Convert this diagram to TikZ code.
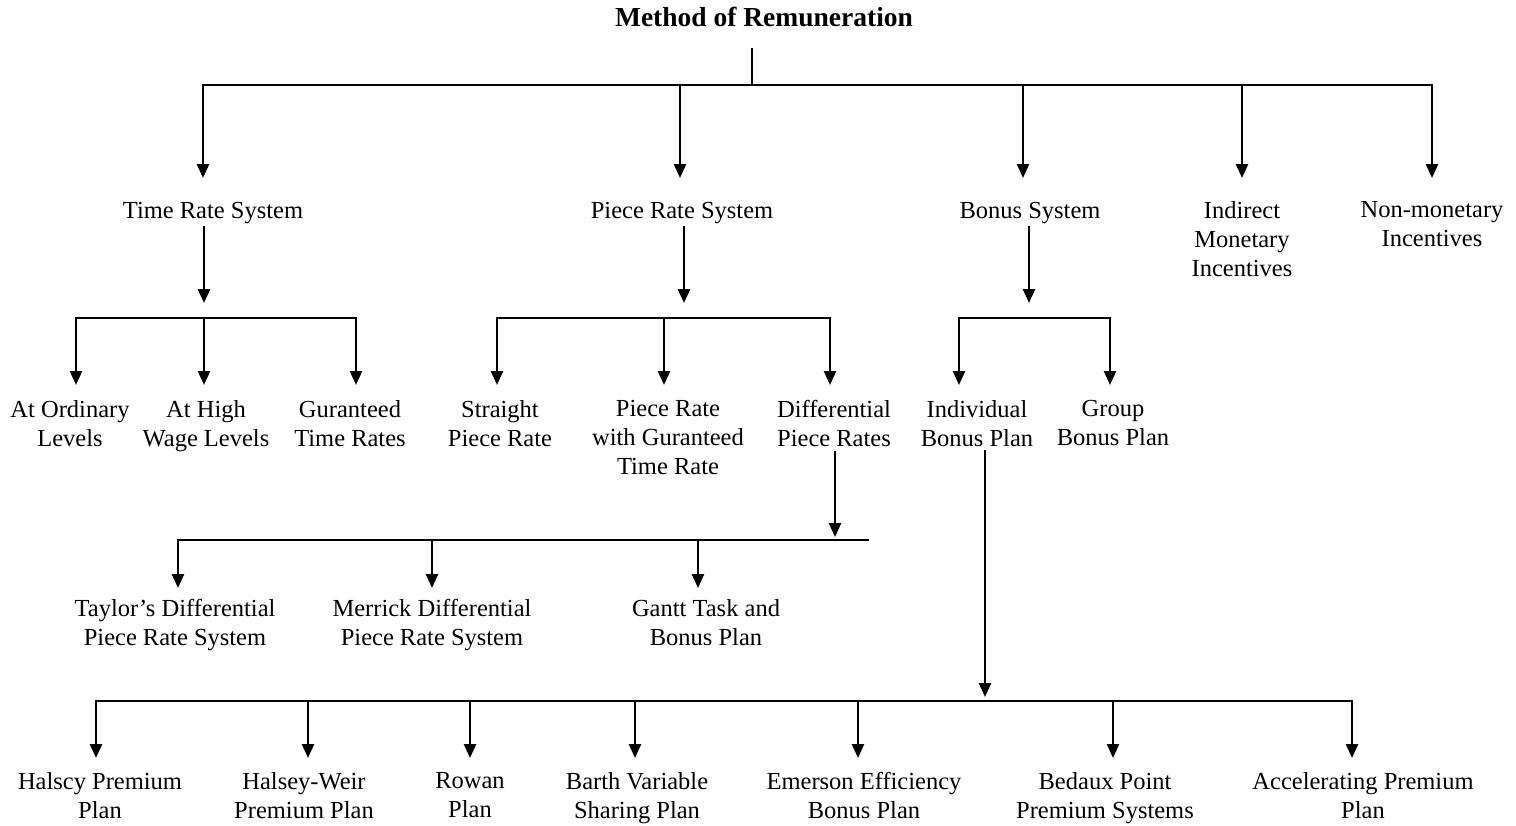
\documentclass[tikz,border=0pt]{standalone}
\usepackage{fontspec}
\setmainfont{Liberation Serif}
\usetikzlibrary{arrows.meta}
\begin{document}
\begin{tikzpicture}[x=1pt,y=-1pt, line width=2.5pt, line cap=rect,
  lbl/.style={anchor=north, inner sep=0pt, align=center,
    font=\fontsize{24.5}{29}\selectfont,
    execute at begin node={\rule{0pt}{19pt}}},
  arr/.style={-{Triangle[width=12pt,length=14pt]}, shorten >=#1},
  arr/.default=0pt]
\path[use as bounding box] (0,0) rectangle (1516,825);

% root
\node[anchor=base, inner sep=0pt, font=\fontsize{27.5}{32}\selectfont\bfseries] (title) at (764,26) {Method of Remuneration};

% first level
\node[lbl] (trs) at (213,198) {Time Rate System};
\node[lbl] (prs) at (682,198) {Piece Rate System};
\node[lbl] (bs)  at (1030,198) {Bonus System};
\node[lbl] (imi) at (1242,200) {Indirect\\Monetary\\Incentives};
\node[lbl] (nmi) at (1432,200) {Non-monetary\\Incentives};

\coordinate (rj) at (752,85);
\coordinate (r1) at (203,85);
\coordinate (r2) at (680,85);
\coordinate (r3) at (1023,85);
\coordinate (r4) at (1242,85);
\coordinate (r5) at (1432,85);
\draw[shorten <=22pt] (title.south -| rj) -- (rj);
\draw (r1) -- (r5);
\draw[arr=20pt] (r1) -- (r1 |- trs.north);
\draw[arr=20pt] (r2) -- (r2 |- prs.north);
\draw[arr=20pt] (r3) -- (r3 |- bs.north);
\draw[arr=22pt] (r4) -- (r4 |- imi.north);
\draw[arr=22pt] (r5) -- (r5 |- nmi.north);

% time rate system
\node[lbl] (ao) at (70,399) {At Ordinary\\Levels};
\node[lbl] (ah) at (206,399) {At High\\Wage Levels};
\node[lbl] (gt) at (350,399) {Guranteed\\Time Rates};
\coordinate (t1) at (76,318);
\coordinate (t2) at (204,318);
\coordinate (t3) at (356,318);
\draw[arr=15pt, shorten <=2pt] (trs.south -| t2) -- (t2);
\draw (t1) -- (t3);
\draw[arr=14pt] (t1) -- (t1 |- ao.north);
\draw[arr=14pt] (t2) -- (t2 |- ah.north);
\draw[arr=14pt] (t3) -- (t3 |- gt.north);

% piece rate system
\node[lbl] (sp) at (500,399) {Straight\\Piece Rate};
\node[lbl] (pg) at (668,399) {Piece Rate\\with Guranteed\\Time Rate};
\node[lbl] (dp) at (834,399) {Differential\\Piece Rates};
\coordinate (pj) at (684,318);
\coordinate (p1) at (497,318);
\coordinate (p2) at (664,318);
\coordinate (p3) at (830,318);
\draw[arr=15pt, shorten <=2pt] (prs.south -| pj) -- (pj);
\draw (p1) -- (p3);
\draw[arr=14pt] (p1) -- (p1 |- sp.north);
\draw[arr=14pt] (p2) -- (p2 |- pg.north);
\draw[arr=14pt] (p3) -- (p3 |- dp.north);

% bonus system
\node[lbl] (ib) at (977,399) {Individual\\Bonus Plan};
\node[lbl] (gb) at (1113,399) {Group\\Bonus Plan};
\coordinate (bj) at (1029,318);
\coordinate (b1) at (959,318);
\coordinate (b2) at (1110,318);
\draw[arr=15pt, shorten <=2pt] (bs.south -| bj) -- (bj);
\draw (b1) -- (b2);
\draw[arr=14pt] (b1) -- (b1 |- ib.north);
\draw[arr=14pt] (b2) -- (b2 |- gb.north);

% differential piece rates
\node[lbl] (td)  at (175,598) {Taylor’s Differential\\Piece Rate System};
\node[lbl] (md)  at (432,598) {Merrick Differential\\Piece Rate System};
\node[lbl] (gtb) at (706,598) {Gantt Task and\\Bonus Plan};
\coordinate (dj) at (835,540);
\coordinate (d1) at (178,540);
\coordinate (d2) at (432,540);
\coordinate (d3) at (698,540);
\coordinate (de) at (868,540);
\draw[arr=3pt, shorten <=4pt] (dp.south -| dj) -- (dj);
\draw (d1) -- (de);
\draw[arr=10pt] (d1) -- (d1 |- td.north);
\draw[arr=10pt] (d2) -- (d2 |- md.north);
\draw[arr=10pt] (d3) -- (d3 |- gtb.north);

% individual bonus plan
\node[lbl] (hp) at (100,771) {Halscy Premium\\Plan};
\node[lbl] (hw) at (304,771) {Halsey-Weir\\Premium Plan};
\node[lbl] (rp) at (470,771) {Rowan\\Plan};
\node[lbl] (bv) at (637,771) {Barth Variable\\Sharing Plan};
\node[lbl] (ee) at (864,771) {Emerson Efficiency\\Bonus Plan};
\node[lbl] (bp) at (1105,771) {Bedaux Point\\Premium Systems};
\node[lbl] (ap) at (1363,771) {Accelerating Premium\\Plan};
\coordinate (ij) at (985,701);
\coordinate (i1) at (96,701);
\coordinate (i2) at (308,701);
\coordinate (i3) at (470,701);
\coordinate (i4) at (635,701);
\coordinate (i5) at (858,701);
\coordinate (i6) at (1113,701);
\coordinate (i7) at (1352,701);
\draw[arr=4pt, shorten <=4pt] (ib.south -| ij) -- (ij);
\draw (i1) -- (i7);
\draw[arr=13pt] (i1) -- (i1 |- hp.north);
\draw[arr=13pt] (i2) -- (i2 |- hw.north);
\draw[arr=13pt] (i3) -- (i3 |- rp.north);
\draw[arr=13pt] (i4) -- (i4 |- bv.north);
\draw[arr=13pt] (i5) -- (i5 |- ee.north);
\draw[arr=13pt] (i6) -- (i6 |- bp.north);
\draw[arr=13pt] (i7) -- (i7 |- ap.north);
\end{tikzpicture}
\end{document}
